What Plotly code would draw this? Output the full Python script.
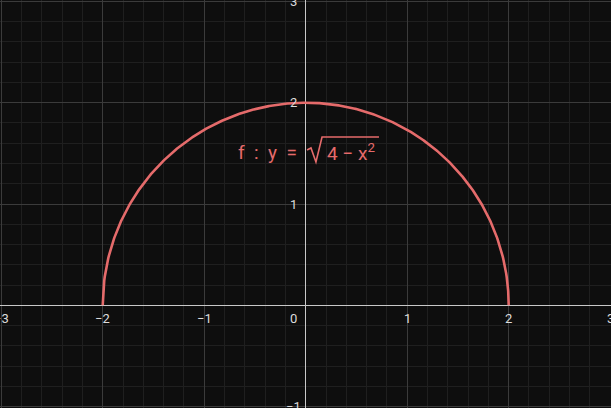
import numpy as np
import plotly.graph_objects as go

# Function samples: f(x) = sqrt(4 - x^2) on [-2, 2]
x_vals = np.linspace(-2, 2, 801)
y_vals = np.sqrt(np.clip(4 - x_vals ** 2, 0, None))

x_tick_vals = [-3, -2, -1, 1, 2, 3]
x_tick_text = ["−3", "−2", "−1", "1", "2", "3"]
y_tick_vals = [-1, 1, 2, 3]
y_tick_text = ["−1", "1", "2", "3"]
origin_label = "0"

curve_color = "#e56b6b"
label_color = "#dcdcdc"
FONT = "Roboto, Arial, sans-serif"

fig = go.Figure()
fig.add_trace(go.Scatter(x=x_vals, y=y_vals, mode="lines",
                         line=dict(color=curve_color, width=2.6),
                         hoverinfo="skip", showlegend=False))

annotations = []
for v, t in zip(x_tick_vals, x_tick_text):
    annotations.append(dict(x=v, y=0, xref="x", yref="y", text=t, showarrow=False,
                            yshift=-13, font=dict(size=13, color=label_color, family=FONT)))
for v, t in zip(y_tick_vals, y_tick_text):
    annotations.append(dict(x=0, y=v, xref="x", yref="y", text=t, showarrow=False,
                            xshift=-12, font=dict(size=13, color=label_color, family=FONT)))
annotations.append(dict(x=0, y=0, xref="x", yref="y", text=origin_label, showarrow=False,
                        xshift=-12, yshift=-13,
                        font=dict(size=13, color=label_color, family=FONT)))
# Function label: left part and radicand; radical sign drawn as a path
annotations.append(dict(x=-0.376, y=1.513, xref="x", yref="y", showarrow=False,
                        text="f  :  y  =",
                        font=dict(size=19, color=curve_color, family=FONT)))
annotations.append(dict(x=0.45, y=1.513, xref="x", yref="y", showarrow=False,
                        text="4 − x<sup>2</sup>",
                        font=dict(size=19, color=curve_color, family=FONT)))

axis_common = dict(showgrid=True, gridcolor="#3b3b3b", gridwidth=1, dtick=1,
                   zeroline=True, zerolinecolor="#c8c8c8", zerolinewidth=1.5,
                   showticklabels=False, ticks="", showline=False,
                   minor=dict(dtick=0.2, showgrid=True, gridcolor="#1f1f1f", gridwidth=1))

fig.update_layout(
    width=611, height=408,
    margin=dict(l=0, r=0, t=0, b=0),
    paper_bgcolor="#0e0e0e", plot_bgcolor="#0e0e0e",
    xaxis=dict(range=[-3.012, 3.008], tick0=0, **axis_common),
    yaxis=dict(range=[-1.014, 3.014], tick0=0, **axis_common),
    annotations=annotations,
    shapes=[dict(type="path", xref="x", yref="y",
                 path="M 0.013 1.533 L 0.052 1.553 L 0.101 1.415 L 0.161 1.661 L 0.722 1.661",
                 line=dict(color=curve_color, width=1.6))],
    showlegend=False,
)

fig.write_html("out.html", config={"displayModeBar": False, "staticPlot": True})

# remove the default page margin so the figure fills the window
with open("out.html", "r", encoding="utf-8") as fh:
    html = fh.read()
html = html.replace("<head>", "<head><style>html,body{margin:0;padding:0;overflow:hidden;background:#0e0e0e}</style>", 1)
with open("out.html", "w", encoding="utf-8") as fh:
    fh.write(html)
